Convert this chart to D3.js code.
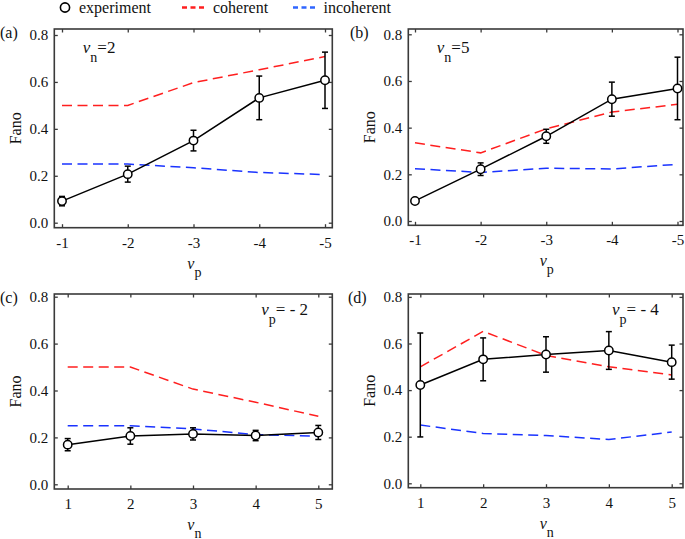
<!DOCTYPE html>
<html><head><meta charset="utf-8">
<script src="https://cdn.jsdelivr.net/npm/d3@7"></script>
<style>
html,body{margin:0;padding:0;background:#fff;}
svg text{font-family:"Liberation Serif","Times New Roman",Times,Tinos,"DejaVu Serif","Noto Serif",serif !important;fill:#111;}
</style></head>
<body><svg id="c" width="685" height="539"></svg>
<script>
// ---- data ----
const xTop = [-1, -2, -3, -4, -5];       // v_p
const xBottom = [1, 2, 3, 4, 5];         // v_n
const yTicks = [0, 0.2, 0.4, 0.6, 0.8];

const expA = [0.092, 0.207, 0.350, 0.532, 0.607];
const errA = [0.020, 0.034, 0.044, 0.093, 0.120];
const cohA = [0.500, 0.500, 0.597, 0.652, 0.708];
const incA = [0.250, 0.250, 0.234, 0.214, 0.205];

const expB = [0.086, 0.222, 0.363, 0.522, 0.568];
const errB = [0.012, 0.027, 0.030, 0.073, 0.134];
const cohB = [0.335, 0.292, 0.395, 0.467, 0.500];
const incB = [0.224, 0.208, 0.226, 0.223, 0.243];

const expC = [0.169, 0.206, 0.215, 0.208, 0.221];
const errC = [0.026, 0.035, 0.026, 0.022, 0.030];
const cohC = [0.500, 0.500, 0.406, 0.350, 0.290];
const incC = [0.250, 0.250, 0.236, 0.212, 0.205];

const expD = [0.422, 0.532, 0.553, 0.570, 0.520];
const errD = [0.223, 0.092, 0.076, 0.081, 0.073];
const cohD = [0.500, 0.652, 0.549, 0.500, 0.465];
const incD = [0.250, 0.214, 0.205, 0.188, 0.220];

const legendLabels = ["experiment", "coherent", "incoherent"];

// ---- styles/layout ----
const FONT = '"Liberation Serif","Times New Roman",Times,Tinos,"DejaVu Serif","Noto Serif",serif';
const RED = "#ff1f1f", BLUE = "#1a33ff", FRAME = "#3a3a3a";
const panels = [
  {tag:"(a)", xs:xTop, exp:expA, err:errA, coh:cohA, inc:incA, xlab:"p", ann:["n","=2"], annPos:"left",
   l:54.3, r:332.3, t:29, b:227.7, x0:62, x1:325, y0:222.7, y8:35, tagX:0},
  {tag:"(b)", xs:xTop, exp:expB, err:errB, coh:cohB, inc:incB, xlab:"p", ann:["n","=5"], annPos:"left",
   l:408.3, r:683, t:29, b:225.3, x0:415, x1:677.5, y0:221, y8:34.3, tagX:350},
  {tag:"(c)", xs:xBottom, exp:expC, err:errC, coh:cohC, inc:incC, xlab:"n", ann:["p","= - 2"], annPos:"right",
   l:54.3, r:332.3, t:294, b:489, x0:67.7, x1:318.3, y0:484.3, y8:296.7, tagX:0},
  {tag:"(d)", xs:xBottom, exp:expD, err:errD, coh:cohD, inc:incD, xlab:"n", ann:["p","= - 4"], annPos:"right",
   l:408.3, r:683, t:294, b:487.7, x0:420.3, x1:671.7, y0:483.3, y8:296.9, tagX:348},
];

const svg = d3.select("#c");

panels.forEach(p => {
  const x = d3.scaleLinear().domain([p.xs[0], p.xs[4]]).range([p.x0, p.x1]);
  const y = d3.scaleLinear().domain([0, 0.8]).range([p.y0, p.y8]);
  const g = svg.append("g");

  const styleAxis = sel => {
    sel.attr("font-family", FONT);
    sel.select(".domain").remove();
    sel.selectAll("line").attr("stroke", FRAME).attr("stroke-width", 1.3);
    sel.selectAll("text").style("font-size", "15px").attr("fill", "#111");
  };
  g.append("g").attr("transform", `translate(0,${p.b})`)
    .call(d3.axisBottom(x).tickValues(p.xs).tickSize(-3.5).tickPadding(9.5).tickFormat(d => String(d)))
    .call(styleAxis);
  g.append("g").attr("transform", `translate(0,${p.t})`)
    .call(d3.axisTop(x).tickValues(p.xs).tickSize(-3.5).tickFormat(""))
    .call(styleAxis);
  g.append("g").attr("transform", `translate(${p.l},0)`)
    .call(d3.axisLeft(y).tickValues(yTicks).tickSize(-3.5).tickPadding(6).tickFormat(d3.format(".1f")))
    .call(styleAxis);
  g.append("g").attr("transform", `translate(${p.r},0)`)
    .call(d3.axisRight(y).tickValues(yTicks).tickSize(-3.5).tickFormat(""))
    .call(styleAxis);

  g.append("rect").attr("x", p.l).attr("y", p.t).attr("width", p.r - p.l).attr("height", p.b - p.t)
    .attr("fill", "none").attr("stroke", FRAME).attr("stroke-width", 1.6);

  const line = d3.line().x((d, i) => x(p.xs[i])).y(d => y(d));

  g.append("path").datum(p.coh).attr("d", line).attr("fill", "none")
    .attr("stroke", RED).attr("stroke-width", 1.5).attr("stroke-dasharray", "10,5.5");
  g.append("path").datum(p.inc).attr("d", line).attr("fill", "none")
    .attr("stroke", BLUE).attr("stroke-width", 1.5).attr("stroke-dasharray", "10,5.5");

  g.append("path").datum(p.exp).attr("d", line).attr("fill", "none")
    .attr("stroke", "#000").attr("stroke-width", 1.5);

  const eb = g.append("g").attr("stroke", "#000").attr("stroke-width", 1.5);
  p.exp.forEach((v, i) => {
    const cx = x(p.xs[i]), yt = y(v + p.err[i]), yb = y(v - p.err[i]);
    eb.append("line").attr("x1", cx).attr("x2", cx).attr("y1", yt).attr("y2", yb);
    eb.append("line").attr("x1", cx - 3).attr("x2", cx + 3).attr("y1", yt).attr("y2", yt);
    eb.append("line").attr("x1", cx - 3).attr("x2", cx + 3).attr("y1", yb).attr("y2", yb);
  });
  g.selectAll("circle.m").data(p.exp).join("circle").attr("class", "m")
    .attr("cx", (d, i) => x(p.xs[i])).attr("cy", d => y(d)).attr("r", 4.2)
    .attr("fill", "#fff").attr("stroke", "#000").attr("stroke-width", 1.5);

  g.append("text").attr("transform", `translate(${p.l - 39},${(p.t + p.b) / 2}) rotate(-90)`)
    .attr("text-anchor", "middle").attr("dy", "0.35em").style("font-size", "16px").text("Fano");

  const cx = (p.l + p.r) / 2;
  const xl = g.append("text").attr("x", cx - 6).attr("y", p.b + 41).style("font-size", "16px");
  xl.append("tspan").style("font-style", "italic").text("ν");
  xl.append("tspan").attr("dy", 8).style("font-size", "14px").text(p.xlab);

  g.append("text").attr("x", p.tagX).attr("y", p.t + 9).style("font-size", "16px").text(p.tag);

  const ax = p.annPos === "left" ? p.l + 28.5 : p.r - 71;
  const ay = p.annPos === "left" ? p.t + 24 : p.t + 21;
  const at = g.append("text").attr("x", ax).attr("y", ay).style("font-size", "17px");
  at.append("tspan").style("font-style", "italic").text("ν");
  at.append("tspan").attr("dy", 9).style("font-size", "14px").text(p.ann[0]);
  at.append("tspan").attr("dy", -9).text(p.ann[1]);
});

// ---- legend ----
const lg = svg.append("g");
lg.append("circle").attr("cx", 65).attr("cy", 7.5).attr("r", 4.6)
  .attr("fill", "#fff").attr("stroke", "#000").attr("stroke-width", 1.6);
lg.append("text").attr("x", 79).attr("y", 12.5).style("font-size", "16px").text(legendLabels[0]);
lg.append("line").attr("x1", 182).attr("x2", 204).attr("y1", 7.5).attr("y2", 7.5)
  .attr("stroke", RED).attr("stroke-width", 2.5).attr("stroke-dasharray", "5,3.5");
lg.append("text").attr("x", 213).attr("y", 12.5).style("font-size", "16px").text(legendLabels[1]);
lg.append("line").attr("x1", 293).attr("x2", 315).attr("y1", 7.5).attr("y2", 7.5)
  .attr("stroke", "#2f66ff").attr("stroke-width", 2.5).attr("stroke-dasharray", "5,3.5");
lg.append("text").attr("x", 323.5).attr("y", 12.5).style("font-size", "16px").text(legendLabels[2]);
</script></body></html>
